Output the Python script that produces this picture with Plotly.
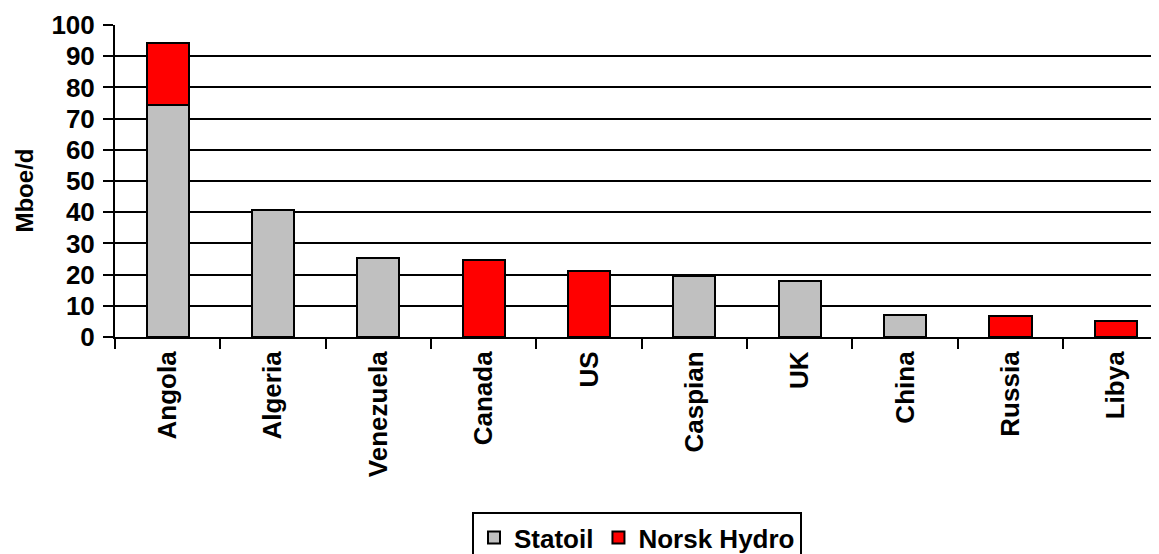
import plotly.graph_objects as go

countries = ["Angola", "Algeria", "Venezuela", "Canada", "US", "Caspian", "UK", "China", "Russia", "Libya"]
statoil = [74.3, 40.7, 25.2, None, None, 19.5, 18.0, 7.0, None, None]
norsk_hydro = [20.0, None, None, 24.8, 21.0, None, None, None, 6.6, 5.2]
y_ticks = [0, 10, 20, 30, 40, 50, 60, 70, 80, 90, 100]

FONT = dict(family="Liberation Sans, Arial, sans-serif", color="black", weight="bold")

fig = go.Figure()
fig.add_trace(go.Bar(name="Statoil", x=countries, y=statoil,
                     marker=dict(color="#C0C0C0", line=dict(color="black", width=2))))
fig.add_trace(go.Bar(name="Norsk Hydro", x=countries, y=norsk_hydro,
                     marker=dict(color="#FF0000", line=dict(color="black", width=2))))

# page body has an 8px margin, so the figure is sized/offset to compensate
fig.update_layout(
    width=1151, height=546,
    barmode="stack", bargap=0.6,
    plot_bgcolor="white", paper_bgcolor="white",
    margin=dict(l=107, r=0, t=17, b=216.5, autoexpand=False),
    font=dict(size=26, **FONT),
    showlegend=True,
    legend=dict(orientation="h", x=0.5, xanchor="center", y=-0.5616, yanchor="top",
                bordercolor="black", borderwidth=2, bgcolor="white",
                font=dict(size=26, **FONT), traceorder="normal",
                itemwidth=30, tracegroupgap=0),
    annotations=[dict(text="Mboe/d", xref="paper", yref="paper", x=-0.087, y=0.47,
                      xanchor="center", yanchor="middle", textangle=-90, showarrow=False,
                      font=dict(size=24, **FONT))],
)
fig.update_xaxes(
    type="category", range=[-0.5, 9.41], automargin=False,
    tickangle=-90, tickfont=dict(size=26, **FONT),
    ticks="outside", tickson="boundaries", ticklen=10, tickwidth=2, tickcolor="black",
    showline=True, linecolor="black", linewidth=2,
    showgrid=False, ticklabelstandoff=2,
)
fig.update_yaxes(
    range=[0, 100], tickvals=y_ticks, automargin=False,
    tickfont=dict(size=26, **FONT),
    ticks="outside", ticklen=10, tickwidth=2, tickcolor="black",
    showline=True, linecolor="black", linewidth=2,
    showgrid=True, gridcolor="black", gridwidth=1.5, zeroline=False,
    ticklabelstandoff=3,
)

fig.write_html("out.html")
